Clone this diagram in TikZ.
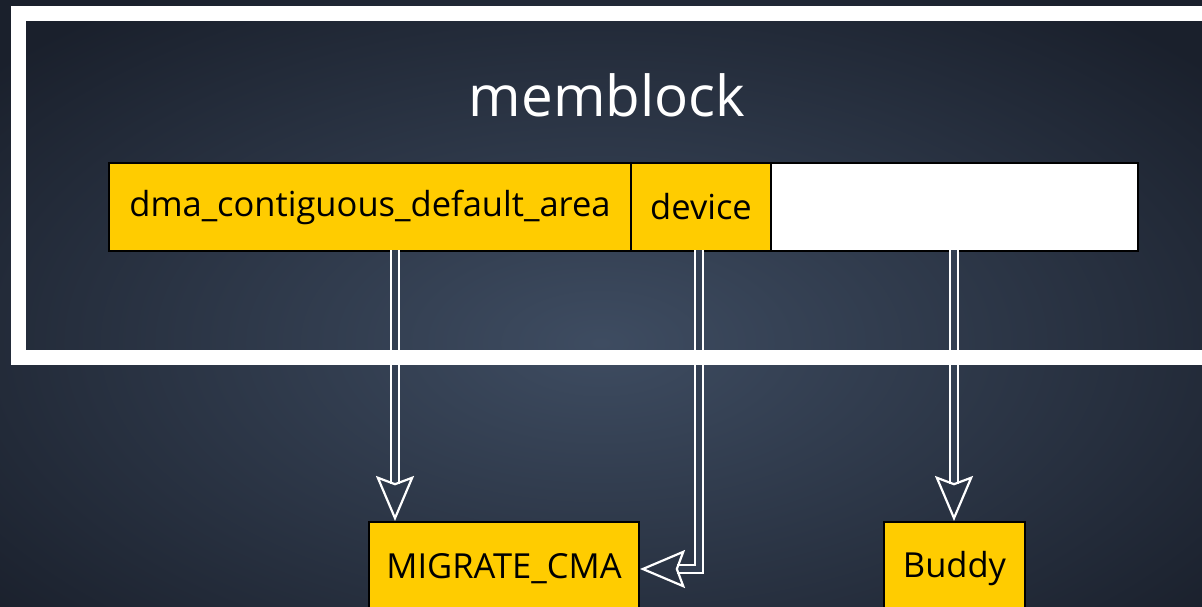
\documentclass[tikz,border=0pt]{standalone}
\usepackage{fontspec}
\setmainfont{Open Sans}
\usetikzlibrary{arrows.meta}
\definecolor{bgin}{HTML}{3E4C61}
\definecolor{bgout}{HTML}{1A202C}
\definecolor{bgmid}{HTML}{333F52}
\definecolor{ylw}{HTML}{FFCC00}
\tikzset{
  seg/.style={draw=black, line width=2pt, fill=ylw, minimum height=88pt, inner sep=0pt, font=\fontsize{34.5}{40}\selectfont, text=black},
  lowbox/.style={draw=black, line width=2pt, fill=ylw, minimum height=94pt, inner sep=0pt, font=\fontsize{34.5}{40}\selectfont, text=black},
  dblarrow/.style={draw=white, line width=2.2pt, double=bgmid, double distance=6pt,
    -{Stealth[open, inset=7pt, length=45pt, width=38pt, line width=2.2pt]}}
}
\begin{document}
\begin{tikzpicture}[x=1pt,y=-1pt]
\useasboundingbox (0,0) rectangle (1202,606);
\clip (0,0) rectangle (1202,606);
\shade[inner color=bgin, outer color=bgout] (-200,-80) rectangle (1402,766);
% bar
\node[seg, minimum width=522pt, anchor=north west] (dma) at (108,162) {dma\_contiguous\_default\_area};
\node[seg, minimum width=140pt, anchor=north west] (dev) at (630,162) {device};
\node[seg, fill=white, minimum width=367pt, anchor=north west] (free) at (770,162) {};
% lower boxes
\node[lowbox, minimum width=270pt, anchor=north west] (mig) at (368,521) {MIGRATE\_CMA};
\node[lowbox, minimum width=141pt, anchor=north west] (buddy) at (883,521) {Buddy};
% arrows
\coordinate (a1) at (395,250);
\coordinate (a2) at (699,250);
\coordinate (a3) at (954,250);
\draw[dblarrow] (a1) -- (a1 |- mig.north);
\draw[dblarrow] (a2) |- (mig.east);
\draw[dblarrow] (a3) -- (a3 |- buddy.north);
% frame
\draw[white, line width=15pt] (18.5,13.5) rectangle (1230,357);
\node[text=white, font=\fontsize{56.5}{62}\selectfont] (title) at (607,95) {memblock};
\end{tikzpicture}
\end{document}
